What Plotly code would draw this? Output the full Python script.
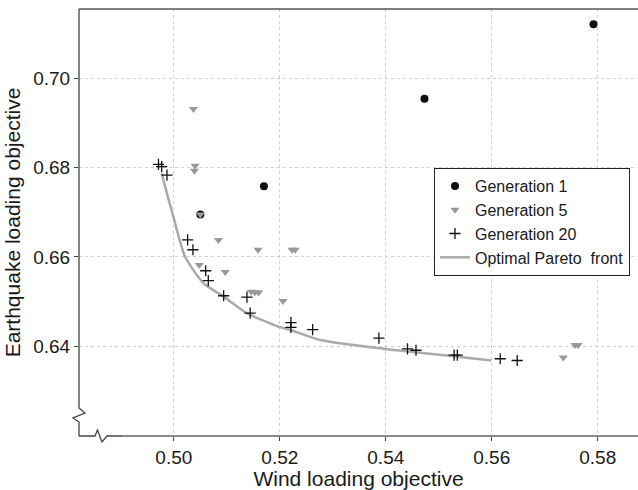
import plotly.graph_objects as go

# ---- data ----
gen1_x = [0.5792, 0.5473, 0.5170, 0.5050]
gen1_y = [0.7121, 0.6954, 0.6758, 0.6695]

gen5_x = [0.5037, 0.5040, 0.5039, 0.5050, 0.5084, 0.5159, 0.5223, 0.5229, 0.5048, 0.5097,
          0.5146, 0.5153, 0.5160, 0.5206, 0.5735, 0.5757, 0.5763]
gen5_y = [0.6931, 0.6804, 0.6793, 0.6695, 0.6638, 0.6616, 0.6616, 0.6616, 0.6582, 0.6566,
          0.6522, 0.6521, 0.6520, 0.6501, 0.6375, 0.6403, 0.6403]

gen20_x = [0.4971, 0.4977, 0.4987, 0.5026, 0.5036, 0.5060, 0.5065, 0.5094, 0.5138, 0.5144,
           0.5221, 0.5221, 0.5262, 0.5387, 0.5441, 0.5457, 0.5529, 0.5535, 0.5616, 0.5648]
gen20_y = [0.6807, 0.6802, 0.6783, 0.6638, 0.6616, 0.6569, 0.6547, 0.6513, 0.6510, 0.6474,
           0.6453, 0.6442, 0.6437, 0.6418, 0.6394, 0.6391, 0.6380, 0.6380, 0.6372, 0.6368]

front_x = [0.4977, 0.4999, 0.5021, 0.5056, 0.5094, 0.5138, 0.5197, 0.5219, 0.5276, 0.5398, 0.5524, 0.5599]
front_y = [0.6787, 0.6690, 0.6601, 0.6541, 0.6511, 0.6474, 0.6444, 0.6437, 0.6414, 0.6394, 0.6378, 0.6368]

x_ticks = [0.50, 0.52, 0.54, 0.56, 0.58]
y_ticks = [0.64, 0.66, 0.68, 0.70]
x_range = [0.4821, 0.5876]
y_range = [0.6199, 0.7155]

W, H = 638, 490
ML, MR, MT, MB = 79, 0, 9, 54
PW, PH = W - ML - MR, H - MT - MB

def px(x):
    return (x - ML) / PW

def py(y):
    return (H - MB - y) / PH

def path(pts):
    return "M " + " L ".join(f"{px(a):.5f},{py(b):.5f}" for a, b in pts)

FONT = "Liberation Sans, Arial, Helvetica, sans-serif"
TXT = "#1a1a1a"

fig = go.Figure()
fig.add_trace(go.Scatter(x=front_x, y=front_y, mode="lines", name="Optimal Pareto  front",
                         line=dict(color="#aaaaaa", width=2.5, shape="spline", smoothing=0.6),
                         legendrank=4))
fig.add_trace(go.Scatter(x=gen1_x, y=gen1_y, mode="markers", name="Generation 1",
                         marker=dict(symbol="circle", color="#111111", size=8), legendrank=1))
fig.add_trace(go.Scatter(x=gen5_x, y=gen5_y, mode="markers", name="Generation 5",
                         marker=dict(symbol="triangle-down", color="#999999", size=8), legendrank=2))
fig.add_trace(go.Scatter(x=gen20_x, y=gen20_y, mode="markers", name="Generation 20",
                         marker=dict(symbol="cross-thin", size=8, line=dict(color="#111111", width=1.3)),
                         legendrank=3))

shapes = [
    dict(type="path", xref="paper", yref="paper",
         path=path([(79, 9), (79, 408), (85, 413), (73, 418), (79, 422), (79, 436)]),
         line=dict(color="#444444", width=1.3), layer="above"),
    dict(type="path", xref="paper", yref="paper",
         path=path([(79, 436), (95, 436), (97.5, 430), (102, 442), (107, 436), (122, 436)]),
         line=dict(color="#444444", width=1.3), layer="above"),
    dict(type="path", xref="paper", yref="paper",
         path=path([(122, 436), (638, 436)]),
         line=dict(color="#666666", width=1.3), layer="above"),
    dict(type="path", xref="paper", yref="paper",
         path=path([(79, 9), (638, 9)]),
         line=dict(color="#555555", width=1.5), layer="above"),
]

fig.update_layout(
    width=W, height=H,
    margin=dict(l=ML, r=MR, t=MT, b=MB, pad=0),
    paper_bgcolor="white", plot_bgcolor="white",
    font=dict(family=FONT, color=TXT),
    showlegend=True,
    legend=dict(x=px(434), y=py(168), xanchor="left", yanchor="top",
                bgcolor="white", bordercolor="#222222", borderwidth=1,
                font=dict(size=16, family=FONT, color=TXT),
                tracegroupgap=0, itemwidth=30),
    shapes=shapes,
    xaxis=dict(range=x_range, tickvals=x_ticks, ticktext=[f"{v:.2f}" for v in x_ticks],
               showline=False, zeroline=False, showgrid=True,
               gridcolor="#d0d0d0", griddash="dot", gridwidth=1,
               ticks="outside", ticklen=4, tickcolor="#444444",
               tickfont=dict(size=19, family=FONT, color=TXT),
               title=dict(text="Wind loading objective", font=dict(size=21, family=FONT, color=TXT),
                          standoff=3)),
    yaxis=dict(range=y_range, tickvals=y_ticks, ticktext=[f"{v:.2f}" for v in y_ticks],
               showline=False, zeroline=False, showgrid=True,
               gridcolor="#d0d0d0", griddash="dot", gridwidth=1,
               ticks="outside", ticklen=4, tickcolor="#444444",
               tickfont=dict(size=19, family=FONT, color=TXT),
               title=dict(text="Earthquake loading objective", font=dict(size=21, family=FONT, color=TXT),
                          standoff=6)),
)

fig.write_html("out.html")
